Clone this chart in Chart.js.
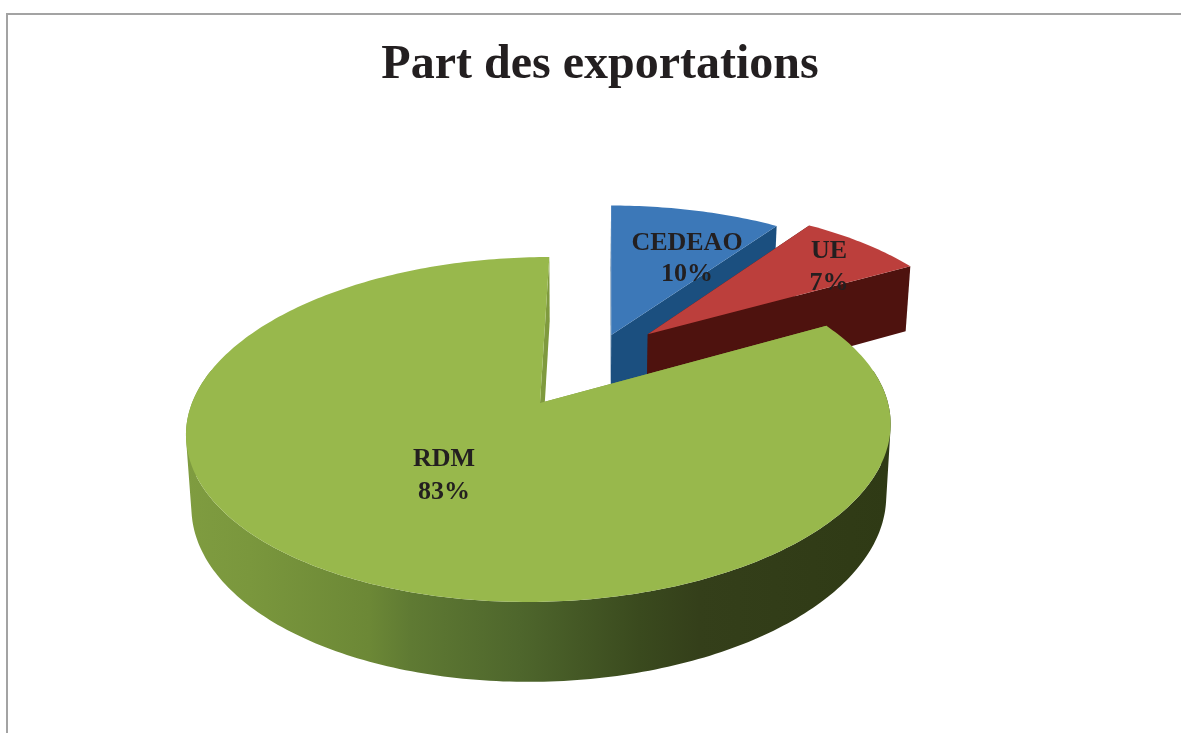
<!DOCTYPE html>
<html>
<head>
<meta charset="utf-8">
<title>Part des exportations</title>
<script src="https://cdn.jsdelivr.net/npm/chart.js@4"></script>
<style>
html, body { margin: 0; background: #fff; overflow: hidden; }
#frame { position: absolute; left: 6px; top: 13px; right: 0; bottom: 0; border-top: 2px solid #a3a3a3; border-left: 2px solid #a3a3a3; }
#myChart { position: absolute; left: 0; top: 0; }
</style>
</head>
<body>
<div id="frame"></div>
<canvas id="myChart" width="1181" height="733"></canvas>
<script>
// valeurs
var categories = ['CEDEAO', 'UE', 'RDM'];
var shares = [9.6, 7.2, 83.2];
var shareLabels = ['10%', '7%', '83%'];

var topColors = ['#3c78b8', '#bc3f3c', '#98b84c'];
var wallColors = ['#1b4f7f', '#4e120e', '#7f9a3e'];

// decalage de chaque part dans le plan du disque
var explodeU = [0.205, 0.317, 0];
var explodeV = [-0.43, -0.435, 0];

// position des etiquettes
var labelX = [687, 829, 444];
var labelY = [[243, 274], [251, 283], [459, 492]];

// perspective du disque
var apexY = 403;
var vanishX = 610;
var apexOffset = -70;
var radiusX = 348;
var radiusY = 168.4;
var tilt = 0.1536;
var depth = 71;
var depthScale = 0.98;
var depthScaleX = 0.986;
var depthBaseX = 575;

function project(u, v, z) {
    var k = 1 / (1 - tilt * v);
    var x = vanishX + (apexOffset + radiusX * u) * k;
    var y = radiusY * v * k;
    if (z) {
        x = depthBaseX + (x - depthBaseX) * depthScaleX;
        y = y * depthScale + depth * k;
    }
    return { x: x, y: apexY + y };
}

// angle chart.js -> coordonnees du disque
function rim(i, angle, z) {
    var a = angle + Math.PI / 2;
    return project(explodeU[i] + Math.sin(a), explodeV[i] - Math.cos(a), z);
}

function center(i, z) {
    return project(explodeU[i], explodeV[i], z);
}

function tracePoly(ctx, pts) {
    pts.forEach(function(p, idx) {
        if (idx === 0) ctx.moveTo(p.x, p.y);
        else ctx.lineTo(p.x, p.y);
    });
    ctx.closePath();
}

function fillShape(ctx, pts, color) {
    ctx.beginPath();
    tracePoly(ctx, pts);
    ctx.fillStyle = color;
    ctx.fill();
}

function arcAngles(arc) {
    var list = [];
    var n = Math.max(8, Math.ceil((arc.endAngle - arc.startAngle) * 60));
    for (var s = 0; s <= n; s++) {
        list.push(arc.startAngle + (arc.endAngle - arc.startAngle) * s / n);
    }
    return list;
}

// paroi balayee entre le bord haut et le bord bas, seulement vers l'avant
function fillRibbon(ctx, i, angles, color) {
    ctx.beginPath();
    for (var j = 0; j < angles.length - 1; j++) {
        if (Math.cos(angles[j] + Math.PI / 2) > 0.2) continue;
        var q = [rim(i, angles[j], 0), rim(i, angles[j + 1], 0), rim(i, angles[j + 1], 1), rim(i, angles[j], 1)];
        var area = 0;
        for (var m = 0; m < 4; m++) {
            var p1 = q[m], p2 = q[(m + 1) % 4];
            area += p1.x * p2.y - p2.x * p1.y;
        }
        if (area < 0) q.reverse();
        tracePoly(ctx, q);
    }
    ctx.fillStyle = color;
    ctx.fill();
}

function sideGradient(ctx, i) {
    if (i !== 2) return wallColors[i];
    var g = ctx.createLinearGradient(186, 0, 889, 0);
    g.addColorStop(0, '#7f9c40');
    g.addColorStop(0.09, '#7a973d');
    g.addColorStop(0.26, '#6c8836');
    g.addColorStop(0.32, '#5f7a33');
    g.addColorStop(0.475, '#4e662c');
    g.addColorStop(0.645, '#3a4a1e');
    g.addColorStop(0.73, '#343f1a');
    g.addColorStop(1, '#2f3a15');
    return g;
}

var pie3d = {
    id: 'pie3d',
    beforeDatasetsDraw: function(chart) {
        var ctx = chart.ctx;
        var arcs = chart.getDatasetMeta(0).data;
        ctx.save();
        arcs.forEach(function(arc, i) {
            var angles = arcAngles(arc);
            var c0 = center(i, 0), c1 = center(i, 1);
            var last = angles[angles.length - 1];
            // parois radiales
            fillShape(ctx, [c0, rim(i, angles[0], 0), rim(i, angles[0], 1), c1], wallColors[i]);
            fillShape(ctx, [c0, rim(i, last, 0), rim(i, last, 1), c1], wallColors[i]);
            // paroi exterieure
            fillRibbon(ctx, i, angles, sideGradient(ctx, i));
            // dessus
            fillShape(ctx, [c0].concat(angles.map(function(a) { return rim(i, a, 0); })), topColors[i]);
        });
        ctx.restore();
        return false;
    },
    afterDraw: function(chart) {
        var ctx = chart.ctx;
        ctx.save();
        ctx.font = 'bold 26px "Liberation Serif"';
        ctx.fillStyle = '#231f20';
        ctx.textAlign = 'center';
        ctx.textBaseline = 'middle';
        categories.forEach(function(name, i) {
            ctx.fillText(name, labelX[i], labelY[i][0]);
            ctx.fillText(shareLabels[i], labelX[i], labelY[i][1]);
        });
        ctx.restore();
    }
};

var ctx = document.getElementById('myChart').getContext('2d');
var myChart = new Chart(ctx, {
    type: 'pie',
    data: {
        labels: categories,
        datasets: [{
            data: shares,
            backgroundColor: topColors,
            borderWidth: 0
        }]
    },
    options: {
        responsive: false,
        animation: false,
        layout: { padding: { left: 19 } },
        plugins: {
            legend: { display: false },
            tooltip: { enabled: false },
            title: {
                display: true,
                text: 'Part des exportations',
                color: '#231f20',
                font: { family: '"Liberation Serif"', size: 48, weight: 'bold' },
                padding: { top: 37, bottom: 10 }
            }
        }
    },
    plugins: [pie3d]
});
</script>
</body>
</html>
